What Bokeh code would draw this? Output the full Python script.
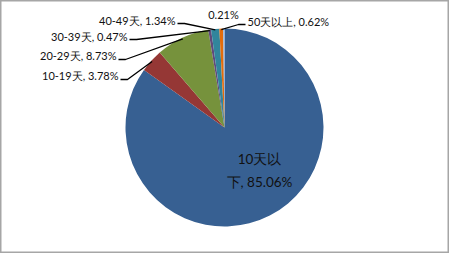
import math
from bokeh.plotting import figure
from bokeh.models import Range1d
from bokeh.core.properties import value
from bokeh.embed import file_html
from bokeh.resources import INLINE

# ---- data ----
categories = ["10天以下", "10-19天", "20-29天", "30-39天", "40-49天", "50天以上", ""]
shares = [85.06, 3.78, 8.73, 0.47, 1.34, 0.62, 0.21]
colors = ["#376092", "#953735", "#76923C", "#604A7B", "#31859C", "#E46C0A", "#8EB4E3"]

# ---- layout (pixel space of the page, reference coordinates) ----
W, H = 449, 253
OFF = 8
def px(x, y):
    return x - OFF, H - (y - OFF)

CX, CY = px(232, 135)
R = 99

# label anchor (page px), alignment, elbow points (page px)
label_layout = {
    0: dict(pos=(267, 178), align="center", elbow=None, inside=True),
    1: dict(pos=(126, 83), align="right", elbow=[(128, 87), (135, 87)]),
    2: dict(pos=(124, 63), align="right", elbow=[(126, 67), (133, 67)]),
    3: dict(pos=(135, 44), align="right", elbow=[(137, 47), (144, 47)]),
    4: dict(pos=(183, 28), align="right", elbow=[(185, 31), (192, 31)]),
    5: dict(pos=(255, 29), align="left", elbow=[(253, 32), (246, 32)]),
    6: dict(pos=(231, 22), align="center", elbow=None),
}

p = figure(width=W, height=H, x_range=Range1d(0, W), y_range=Range1d(0, H),
           output_backend="svg", toolbar_location=None, min_border=0)
p.axis.visible = False
p.grid.visible = False
p.outline_line_color = "#A6A6A6"
p.outline_line_width = 2
p.background_fill_color = "white"
p.border_fill_color = "white"

total = sum(shares)
starts, ends, mids = [], [], []
cum = 0.0
for v in shares:
    a0 = math.pi / 2 - 2 * math.pi * cum / total
    cum += v
    a1 = math.pi / 2 - 2 * math.pi * cum / total
    starts.append(a0)
    ends.append(a1)
    mids.append((a0 + a1) / 2)

p.wedge(x=CX, y=CY, radius=R, start_angle=starts, end_angle=ends,
        direction="clock", fill_color=colors, line_color=None)

# leader lines
xs, ys = [], []
for i, lay in label_layout.items():
    if lay["elbow"] is None:
        continue
    pts = [px(*pt) for pt in lay["elbow"]]
    ex = CX + (R - 1) * math.cos(mids[i])
    ey = CY + (R - 1) * math.sin(mids[i])
    xs.append([pts[0][0], pts[1][0], ex])
    ys.append([pts[0][1], pts[1][1], ey])
p.multi_line(xs=xs, ys=ys, line_color="black", line_width=1.3)

# labels
for i, lay in label_layout.items():
    cat = categories[i]
    txt = f"{cat}, {shares[i]:.2f}%" if cat else f"{shares[i]:.2f}%"
    if lay.get("inside"):
        txt = txt[:4] + "\n" + txt[4:]
        size = "13.5px"
    else:
        size = "11px"
    x, y = px(*lay["pos"])
    p.text(x=[x], y=[y], text=[txt], text_align=lay["align"], text_baseline="middle",
           text_font=value("Lato"), text_font_size=size, text_color="#111111",
           text_line_height=1.4)

open("out.html", "w").write(file_html(p, INLINE))
